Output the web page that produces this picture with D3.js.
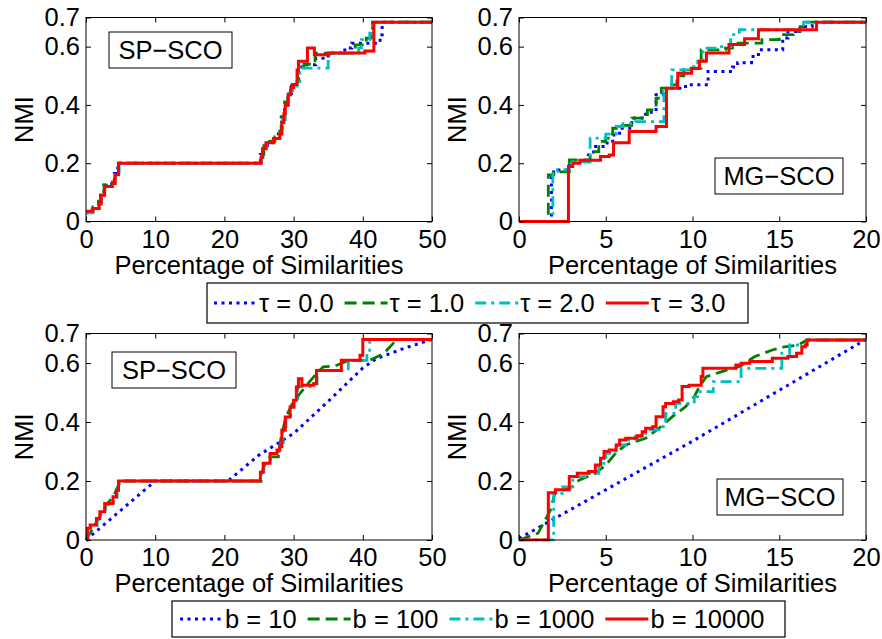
<!DOCTYPE html>
<html>
<head>
<meta charset="utf-8">
<script src="https://cdnjs.cloudflare.com/ajax/libs/d3/7.8.5/d3.min.js"></script>
<style>
  body { margin: 0; background: #fff; }
  svg text { font-family: "Liberation Sans", Arial, Helvetica, sans-serif; fill: #000; }
</style>
</head>
<body>
<div id="chart"></div>
<script>
/* NMI vs percentage of similarities, SP-SCO and MG-SCO,
   for different tau (top row) and b (bottom row) values.
   Each series is a list of [percentage, NMI] points.
*/

// Legend names
var tauNames = ["\u03c4 = 0.0", "\u03c4 = 1.0", "\u03c4 = 2.0", "\u03c4 = 3.0"];
var bNames = ["b = 10", "b = 100", "b = 1000", "b = 10000"];

// Axis ticks
var spTicks = [0, 10, 20, 30, 40, 50];
var mgTicks = [0, 5, 10, 15, 20];
var nmiTicks = [0, 0.2, 0.4, 0.6, 0.7];

// --- SP-SCO, tau ---
var spTau0 = [[0,0.03],[0.9,0.045],[1.8,0.065],[2.1,0.09],[2.6,0.125],[3.7,0.135],[4.1,0.165],[4.6,0.2],[25.2,0.23],[25.6,0.26],[26.2,0.275],[27.0,0.285],[27.8,0.3],[28.3,0.36],[28.7,0.4],[29.2,0.44],[29.7,0.465],[30.4,0.48],[30.7,0.53],[31.6,0.538],[33.2,0.56],[35.0,0.578],[37.4,0.595],[38.4,0.612],[42.5,0.641],[42.8,0.684],[50,0.684]];
var spTau1 = [[0,0.035],[1.0,0.05],[1.8,0.07],[2.1,0.095],[2.6,0.125],[3.8,0.135],[4.2,0.17],[4.7,0.2],[25.3,0.23],[25.7,0.26],[26.3,0.275],[27.3,0.29],[28.0,0.31],[28.2,0.36],[28.7,0.41],[29.2,0.45],[29.8,0.47],[30.6,0.53],[31.5,0.54],[33.1,0.578],[38.9,0.606],[40.5,0.629],[41.2,0.646],[41.4,0.684],[50,0.684]];
var spTau2 = [[0,0.03],[1.0,0.045],[1.9,0.065],[2.2,0.09],[2.7,0.12],[3.8,0.13],[4.2,0.16],[4.8,0.2],[25.3,0.22],[25.6,0.25],[26.1,0.27],[27.2,0.285],[28.0,0.3],[28.4,0.35],[28.8,0.4],[29.3,0.44],[29.8,0.465],[30.5,0.48],[30.9,0.526],[35.0,0.561],[35.2,0.578],[39.4,0.595],[39.8,0.624],[41.0,0.646],[41.4,0.684],[50,0.684]];
var spTau3 = [[0,0.035],[1.0,0.045],[1.9,0.06],[2.2,0.09],[2.7,0.12],[3.8,0.13],[4.2,0.16],[4.7,0.2],[25.3,0.22],[25.5,0.25],[26.0,0.27],[27.1,0.285],[28.0,0.3],[28.3,0.34],[28.6,0.37],[28.8,0.4],[29.2,0.435],[29.6,0.46],[30.0,0.47],[30.5,0.52],[30.7,0.55],[32.0,0.595],[33.0,0.572],[35.0,0.578],[40.3,0.585],[41.6,0.684],[50,0.684]];

// --- MG-SCO, tau ---
var mgTau0 = [[0,0],[1.87,0.15],[2.0,0.17],[2.3,0.177],[2.9,0.205],[4.0,0.228],[4.3,0.257],[5.0,0.269],[5.4,0.297],[5.8,0.32],[6.5,0.355],[7.3,0.375],[7.9,0.435],[8.3,0.452],[8.7,0.457],[9.6,0.469],[10.9,0.515],[12.3,0.53],[12.6,0.545],[13.4,0.566],[13.8,0.589],[15.2,0.63],[15.5,0.652],[16.2,0.669],[16.9,0.684],[20,0.684]];
var mgTau1 = [[0,0],[1.69,0.16],[2.0,0.17],[2.9,0.211],[4.1,0.24],[4.6,0.275],[5.0,0.286],[5.4,0.32],[5.8,0.33],[6.5,0.355],[7.4,0.383],[7.9,0.423],[8.2,0.458],[8.7,0.469],[9.1,0.5],[9.5,0.526],[10.5,0.589],[11.9,0.595],[12.3,0.612],[14.0,0.624],[15.0,0.641],[15.8,0.652],[16.2,0.669],[16.5,0.684],[20,0.684]];
var mgTau2 = [[0,0],[1.95,0.171],[2.2,0.177],[2.9,0.205],[4.1,0.286],[5.0,0.3],[5.6,0.326],[6.0,0.336],[6.7,0.343],[8.35,0.446],[8.55,0.463],[8.8,0.52],[9.9,0.531],[10.3,0.55],[10.6,0.595],[11.5,0.6],[12.2,0.641],[12.7,0.658],[16.4,0.684],[20,0.684]];
var mgTau3 = [[0,0],[2.85,0.189],[3.1,0.2],[3.5,0.21],[4.7,0.223],[5.2,0.228],[5.45,0.27],[6.35,0.309],[7.9,0.326],[8.5,0.457],[9.15,0.509],[9.95,0.525],[10.4,0.55],[10.8,0.578],[12.1,0.607],[13.0,0.627],[13.8,0.658],[17.15,0.684],[20,0.684]];

// --- SP-SCO, b ---
var spB10 = [[0,0],[10,0.2],[20.5,0.2],[25,0.288],[30,0.361],[35,0.47],[40,0.583],[42,0.615],[46,0.65],[50,0.68]];
var spB100 = [[0,0],[1,0.04],[2,0.08],[3,0.12],[4,0.15],[5,0.2],[25.3,0.2],[25.4,0.226],[26.1,0.275],[26.8,0.282],[27.8,0.282],[28.2,0.35],[28.9,0.417],[29.8,0.462],[30.9,0.496],[31.9,0.525],[33.3,0.564],[34.3,0.587],[36,0.59],[38,0.609],[41.0,0.609],[42.0,0.62],[43.0,0.632],[43.9,0.654],[44.9,0.68],[50,0.68]];
var spB1000 = [[0,0],[0.3,0.035],[0.7,0.05],[1.6,0.07],[2.1,0.095],[2.8,0.12],[4.0,0.145],[4.5,0.17],[4.8,0.2],[25.3,0.23],[25.7,0.26],[26.7,0.29],[27.7,0.3],[28.2,0.33],[28.5,0.37],[28.9,0.417],[29.6,0.45],[30.1,0.474],[30.6,0.52],[32.9,0.53],[33.4,0.575],[37.9,0.609],[40.6,0.643],[41.0,0.68],[50,0.68]];
var spB10000 = [[0,0],[0.2,0.04],[0.6,0.051],[1.5,0.073],[2.0,0.096],[2.7,0.124],[3.9,0.147],[4.4,0.169],[4.7,0.2],[25.2,0.23],[25.6,0.26],[26.6,0.293],[27.6,0.305],[28.0,0.316],[28.3,0.372],[28.8,0.417],[29.5,0.451],[30.0,0.474],[30.4,0.519],[30.7,0.547],[31.2,0.525],[32.9,0.53],[33.3,0.575],[36.9,0.609],[39.6,0.626],[40.0,0.68],[50,0.68]];

// --- MG-SCO, b ---
var mgB10 = [[0,0.005],[10,0.335],[20,0.68]];
var mgB100 = [[0,0],[1.1,0.023],[1.8,0.1],[2.07,0.158],[3.07,0.18],[3.46,0.203],[4.4,0.226],[5.0,0.254],[5.57,0.294],[6.15,0.322],[6.7,0.333],[7.3,0.345],[8.07,0.379],[8.84,0.418],[9.6,0.452],[10.1,0.486],[10.4,0.52],[10.8,0.554],[11.7,0.571],[12.7,0.588],[13.6,0.622],[14.6,0.644],[15.3,0.655],[16.1,0.661],[16.6,0.678],[20,0.678]];
var mgB1000 = [[0,0],[2.0,0.158],[2.5,0.18],[3.1,0.215],[3.9,0.226],[4.6,0.26],[5.0,0.294],[5.57,0.322],[6.15,0.339],[6.7,0.35],[7.3,0.373],[8.07,0.384],[8.45,0.429],[9.03,0.463],[10.1,0.486],[10.3,0.503],[11.2,0.537],[12.8,0.582],[15.15,0.633],[15.6,0.661],[16.6,0.678],[20,0.678]];
var mgB10000 = [[0,0],[1.69,0.16],[2.1,0.17],[2.9,0.215],[3.36,0.226],[4.0,0.232],[4.4,0.254],[4.7,0.277],[4.9,0.3],[5.2,0.305],[5.6,0.322],[5.8,0.339],[6.15,0.345],[6.8,0.353],[7.1,0.367],[7.3,0.379],[7.7,0.384],[7.9,0.418],[8.3,0.452],[8.45,0.463],[8.9,0.469],[9.2,0.475],[9.4,0.52],[9.8,0.525],[10.5,0.554],[10.6,0.582],[12.5,0.593],[12.8,0.599],[13.3,0.605],[14.6,0.616],[15.5,0.622],[16.0,0.633],[16.3,0.655],[16.5,0.661],[16.6,0.678],[20,0.678]];

// Line styles shared by both legends (blue dotted, green dashed, cyan dash-dot, red solid)
var styles = [
  { color: "#0000ff", dash: "3,4.5", width: 3 },
  { color: "#008000", dash: "12,6", width: 2.8 },
  { color: "#00bfbf", dash: "11,5,3,5", width: 2.8 },
  { color: "#ff0000", dash: null, width: 3 }
];

var FONT = 25.5;

var svg = d3.select("#chart").append("svg")
    .attr("width", 882)
    .attr("height", 639)
    .style("background", "#fff");

/* Draw one MATLAB-style panel
*/
function drawPanel(p, idx) {
  var g = svg.append("g").attr("transform", `translate(${p.left},${p.top})`);
  var x = d3.scaleLinear().domain([0, p.xMax]).range([0, p.width]);
  var y = d3.scaleLinear().domain([0, 0.7]).range([p.height, 0]);

  // Clip the curves to the plot box
  g.append("clipPath").attr("id", "clip" + idx)
    .append("rect").attr("x", -1.5).attr("y", -1.5)
    .attr("width", p.width + 3).attr("height", p.height + 3);

  var plot = g.append("g").attr("clip-path", `url(#clip${idx})`);

  // Draw the series, red last
  p.series.forEach(function(s, i) {
    var line = d3.line()
      .x(function(d) { return x(d[0]); })
      .y(function(d) { return y(d[1]); })
      .curve(p.linear[i] ? d3.curveLinear : d3.curveStepAfter);
    plot.append("path")
      .datum(s)
      .attr("d", line)
      .attr("fill", "none")
      .attr("stroke", styles[i].color)
      .attr("stroke-width", styles[i].width)
      .attr("stroke-dasharray", styles[i].dash)
      .attr("stroke-linejoin", "miter");
  });

  // Axes with inward ticks on all four sides
  var bottom = g.append("g").attr("transform", `translate(0,${p.height})`)
    .call(d3.axisBottom(x).tickValues(p.xTicks).tickSizeInner(-5).tickSizeOuter(0).tickPadding(8));
  var left = g.append("g")
    .call(d3.axisLeft(y).tickValues(nmiTicks).tickFormat(d3.format("")).tickSizeInner(-5).tickSizeOuter(0).tickPadding(6));
  var top = g.append("g")
    .call(d3.axisTop(x).tickValues(p.xTicks).tickSizeInner(-5).tickSizeOuter(0).tickFormat(""));
  var right = g.append("g").attr("transform", `translate(${p.width},0)`)
    .call(d3.axisRight(y).tickValues(nmiTicks).tickSizeInner(-5).tickSizeOuter(0).tickFormat(""));

  [bottom, left, top, right].forEach(function(a) {
    a.attr("font-size", FONT).attr("font-family", null);
    a.select(".domain").remove();
    a.selectAll(".tick line").attr("stroke", "#000").attr("stroke-width", 1);
  });

  // Frame
  g.append("rect")
    .attr("width", p.width).attr("height", p.height)
    .attr("fill", "none").attr("stroke", "#000").attr("stroke-width", 1);

  // Axis titles
  g.append("text")
    .attr("x", p.width / 2).attr("y", p.height + 52)
    .attr("text-anchor", "middle").attr("font-size", FONT)
    .text("Percentage of Similarities");
  g.append("text")
    .attr("transform", `translate(-53,${p.height / 2}) rotate(-90)`)
    .attr("text-anchor", "middle").attr("font-size", FONT)
    .text("NMI");

  // Method label box
  var lb = g.append("g").attr("transform", `translate(${p.box[0]},${p.box[1]})`);
  lb.append("rect")
    .attr("width", p.box[2]).attr("height", 36)
    .attr("fill", "#fff").attr("stroke", "#000").attr("stroke-width", 1);
  lb.append("text")
    .attr("x", p.box[2] / 2).attr("y", 27)
    .attr("text-anchor", "middle").attr("font-size", FONT)
    .text(p.label);
}

/* Draw a horizontal legend box
*/
function drawLegend(names, bx, by, bw, bh, pad) {
  var lg = svg.append("g").attr("transform", `translate(${bx},${by})`);
  lg.append("rect")
    .attr("width", bw).attr("height", bh)
    .attr("fill", "#fff").attr("stroke", "#000").attr("stroke-width", 1.2);
  var cx = pad;
  var cy = bh / 2;
  names.forEach(function(n, i) {
    lg.append("line")
      .attr("x1", cx).attr("x2", cx + 43)
      .attr("y1", cy).attr("y2", cy)
      .attr("stroke", styles[i].color)
      .attr("stroke-width", styles[i].width)
      .attr("stroke-dasharray", styles[i].dash);
    var t = lg.append("text")
      .attr("x", cx + 45).attr("y", cy + 9)
      .attr("font-size", FONT)
      .text(n);
    cx = cx + 45 + t.node().getComputedTextLength() + 11;
  });
}

var panels = [
  { left: 86, top: 17.5, width: 346, height: 204, xMax: 50, xTicks: spTicks,
    series: [spTau0, spTau1, spTau2, spTau3], linear: [false, false, false, false],
    label: "SP\u2212SCO", box: [23, 14.5, 123] },
  { left: 519, top: 17.5, width: 347, height: 204, xMax: 20, xTicks: mgTicks,
    series: [mgTau0, mgTau1, mgTau2, mgTau3], linear: [false, false, false, false],
    label: "MG\u2212SCO", box: [196, 140.5, 128] },
  { left: 86, top: 333.5, width: 346, height: 206.5, xMax: 50, xTicks: spTicks,
    series: [spB10, spB100, spB1000, spB10000], linear: [true, true, false, false],
    label: "SP\u2212SCO", box: [26, 18.5, 124] },
  { left: 519, top: 333.5, width: 347, height: 206.5, xMax: 20, xTicks: mgTicks,
    series: [mgB10, mgB100, mgB1000, mgB10000], linear: [true, true, false, false],
    label: "MG\u2212SCO", box: [198, 145.5, 126] }
];

panels.forEach(drawPanel);

drawLegend(tauNames, 207, 283, 541, 40, 7);
drawLegend(bNames, 172, 601, 613, 36, 8);
</script>
</body>
</html>
